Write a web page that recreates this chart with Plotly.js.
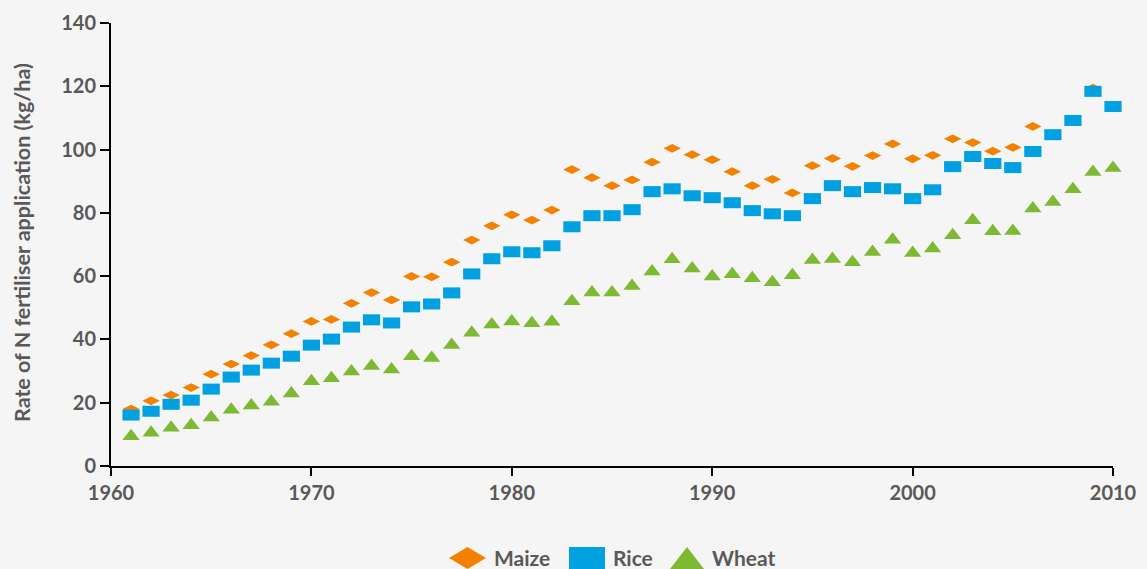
<!DOCTYPE html>
<html>
<head>
<meta charset="utf-8">
<script src="https://cdn.plot.ly/plotly-3.0.1.min.js"></script>
<style>
  html, body { margin: 0; padding: 0; background: #f5f5f5; }
  #chart { width: 1147px; height: 569px; }
</style>
</head>
<body>
<div id="chart"></div>
<script>
// ---- data ----
var years = [];
for (var yr = 1961; yr <= 2010; yr++) years.push(yr);

var maize = [18.0, 20.6, 22.4, 24.8, 29.0, 32.2, 34.9, 38.3, 41.8, 45.7,
             46.3, 51.4, 54.8, 52.5, 59.9, 59.8, 64.4, 71.4, 75.9, 79.4,
             77.7, 80.9, 93.7, 91.1, 88.6, 90.4, 96.0, 100.4, 98.4, 96.8,
             93.0, 88.6, 90.6, 86.3, 94.9, 97.2, 94.7, 98.1, 101.8, 97.1,
             98.2, 103.4, 102.2, 99.5, 100.7, 107.3, null, null, 119.4, null];

var rice = [16.1, 17.3, 19.5, 20.8, 24.3, 28.1, 30.3, 32.5, 34.7, 38.2,
            40.1, 43.9, 46.2, 45.2, 50.3, 51.2, 54.7, 60.7, 65.5, 67.7,
            67.4, 69.6, 75.6, 79.1, 79.1, 81.0, 86.7, 87.6, 85.4, 84.8,
            83.2, 80.7, 79.7, 79.1, 84.5, 88.6, 86.7, 88.0, 87.6, 84.5,
            87.3, 94.6, 97.8, 95.6, 94.3, 99.4, 104.7, 109.2, 118.4, 113.6];

var wheat = [9.4, 10.5, 12.1, 12.9, 15.3, 17.8, 19.1, 20.3, 22.9, 26.8,
             27.7, 29.9, 31.6, 30.5, 34.7, 34.1, 38.2, 42.1, 44.7, 45.7,
             45.1, 45.6, 52.1, 54.8, 54.8, 56.9, 61.5, 65.3, 62.4, 59.9,
             60.6, 59.3, 58.1, 60.3, 65.1, 65.4, 64.4, 67.6, 71.5, 67.3,
             68.7, 72.9, 77.7, 74.2, 74.3, 81.4, 83.4, 87.5, 92.9, 94.2];

var seriesNames = ['Maize', 'Rice', 'Wheat'];
var xTicks = [1960, 1970, 1980, 1990, 2000, 2010];
var yTicks = [0, 20, 40, 60, 80, 100, 120, 140];
var yTitle = 'Rate of N fertiliser application (kg/ha)';

// ---- styling ----
var cMaize = '#f28100', cRice = '#00a0e1', cWheat = '#7db932';
var textGray = '#595959';
var W = 1147, H = 569;
var M = { l: 111, r: 34, t: 23, b: 103 };

var traces = [
  { x: years, y: maize, name: seriesNames[0], type: 'scatter', mode: 'markers', cliponaxis: false,
    marker: { symbol: 'diamond-wide', size: 12.5, color: cMaize, line: { width: 0 } } },
  { x: years, y: rice, name: seriesNames[1], type: 'scatter', mode: 'markers', cliponaxis: false,
    marker: { symbol: 'line-ew', size: 12.3, color: cRice, line: { width: 11, color: cRice } } },
  { x: years, y: wheat, name: seriesNames[2], type: 'scatter', mode: 'markers', cliponaxis: false,
    marker: { symbol: 'triangle-up', size: 15, color: cWheat, line: { width: 0 } } }
];

// pixel -> paper helpers (for the custom legend / title placement only)
var pw = W - M.l - M.r, ph = H - M.t - M.b;
function px(x) { return (x - M.l) / pw; }
function py(y) { return (H - M.b - y) / ph; }

var legendY = 558;
var shapes = [
  { type: 'path', xref: 'paper', yref: 'paper', fillcolor: cMaize, line: { width: 0 },
    path: 'M ' + px(449) + ' ' + py(legendY) + ' L ' + px(467.5) + ' ' + py(legendY - 11) +
          ' L ' + px(486) + ' ' + py(legendY) + ' L ' + px(467.5) + ' ' + py(legendY + 11) + ' Z' },
  { type: 'rect', xref: 'paper', yref: 'paper', fillcolor: cRice, line: { width: 0 },
    x0: px(569), x1: px(605), y0: py(legendY - 11), y1: py(legendY + 11) },
  { type: 'path', xref: 'paper', yref: 'paper', fillcolor: cWheat, line: { width: 0 },
    path: 'M ' + px(670) + ' ' + py(legendY + 11) + ' L ' + px(687) + ' ' + py(legendY - 11) +
          ' L ' + px(704) + ' ' + py(legendY + 11) + ' Z' }
];

var legFont = { family: 'Lato, sans-serif', size: 21, color: textGray, weight: 700 };
var annotations = [
  { text: seriesNames[0], x: px(492), y: py(legendY - 1), xref: 'paper', yref: 'paper',
    xanchor: 'left', yanchor: 'middle', showarrow: false, font: legFont },
  { text: seriesNames[1], x: px(611), y: py(legendY - 1), xref: 'paper', yref: 'paper',
    xanchor: 'left', yanchor: 'middle', showarrow: false, font: legFont },
  { text: seriesNames[2], x: px(710), y: py(legendY - 1), xref: 'paper', yref: 'paper',
    xanchor: 'left', yanchor: 'middle', showarrow: false, font: legFont },
  { text: yTitle, textangle: -90, x: px(22), y: py(243), xref: 'paper', yref: 'paper',
    xanchor: 'center', yanchor: 'middle', showarrow: false,
    font: { family: 'Lato, sans-serif', size: 21.5, color: textGray, weight: 700 } }
];

var tickFont = { family: 'Lato, sans-serif', size: 20, color: textGray, weight: 700 };

var layout = {
  width: W, height: H,
  margin: M,
  paper_bgcolor: '#f5f5f5',
  plot_bgcolor: '#f5f5f5',
  showlegend: false,
  font: { family: 'Lato, sans-serif', color: textGray, weight: 700 },
  xaxis: {
    range: [1960, 2010], tickvals: xTicks, ticktext: xTicks.map(String),
    showgrid: false, zeroline: false, showline: true, linecolor: '#000', linewidth: 2,
    ticks: 'outside', ticklen: 8, tickwidth: 2, tickcolor: '#000',
    tickfont: tickFont, fixedrange: true
  },
  yaxis: {
    range: [0, 140], tickvals: yTicks, ticktext: yTicks.map(String),
    showgrid: false, zeroline: false, showline: true, linecolor: '#000', linewidth: 2,
    ticks: 'outside', ticklen: 9, tickwidth: 2, tickcolor: '#000',
    tickfont: tickFont, fixedrange: true
  },
  shapes: shapes,
  annotations: annotations
};

Plotly.newPlot('chart', traces, layout, { displayModeBar: false, staticPlot: true });
</script>
</body>
</html>
